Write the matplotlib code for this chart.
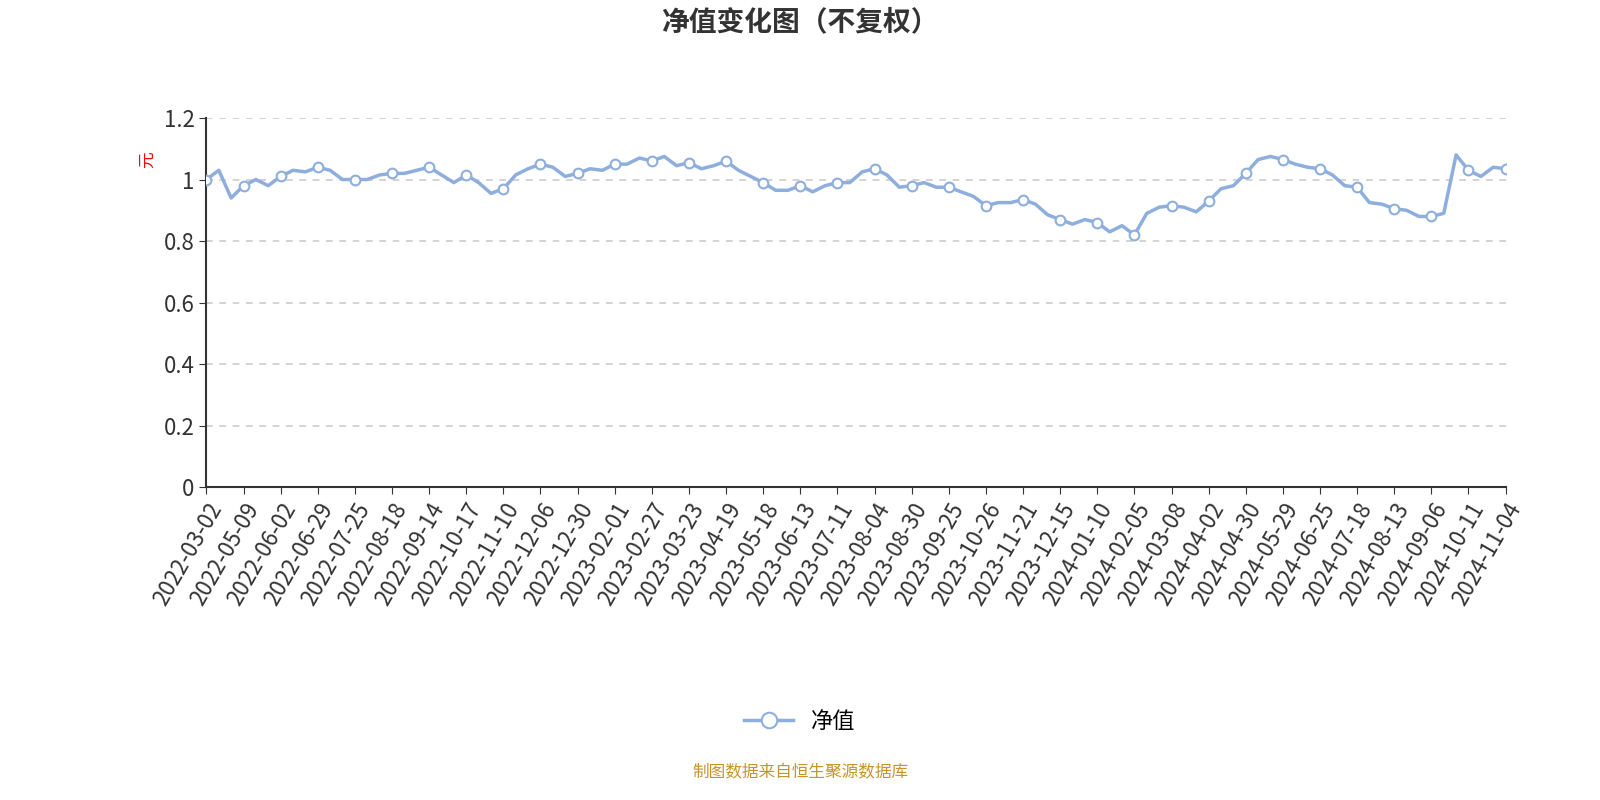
import matplotlib
matplotlib.use("Agg")
import matplotlib.pyplot as plt
from matplotlib.ticker import FuncFormatter

plt.rcParams["font.family"] = ["Noto Sans CJK SC", "DejaVu Sans"]
plt.rcParams["axes.unicode_minus"] = False

tick_labels = [
    "2022-03-02", "2022-05-09", "2022-06-02", "2022-06-29", "2022-07-25", "2022-08-18",
    "2022-09-14", "2022-10-17", "2022-11-10", "2022-12-06", "2022-12-30", "2023-02-01",
    "2023-02-27", "2023-03-23", "2023-04-19", "2023-05-18", "2023-06-13", "2023-07-11",
    "2023-08-04", "2023-08-30", "2023-09-25", "2023-10-26", "2023-11-21", "2023-12-15",
    "2024-01-10", "2024-02-05", "2024-03-08", "2024-04-02", "2024-04-30", "2024-05-29",
    "2024-06-25", "2024-07-18", "2024-08-13", "2024-09-06", "2024-10-11", "2024-11-04",
]

nav = [
    1.00, 1.03, 0.94, 0.98, 1.00, 0.98, 1.01, 1.03, 1.025, 1.04,
    1.03, 1.00, 1.00, 1.00, 1.015, 1.02, 1.02, 1.03, 1.04, 1.015,
    0.99, 1.015, 0.99, 0.955, 0.97, 1.015, 1.035, 1.05, 1.04, 1.01,
    1.02, 1.035, 1.03, 1.05, 1.05, 1.07, 1.06, 1.075, 1.045, 1.055,
    1.035, 1.045, 1.06, 1.03, 1.01, 0.99, 0.965, 0.965, 0.98, 0.96,
    0.98, 0.99, 0.99, 1.025, 1.035, 1.015, 0.975, 0.98, 0.99, 0.975,
    0.975, 0.96, 0.945, 0.915, 0.925, 0.925, 0.935, 0.92, 0.885, 0.87,
    0.855, 0.87, 0.86, 0.83, 0.85, 0.82, 0.89, 0.91, 0.915, 0.91,
    0.895, 0.93, 0.97, 0.98, 1.02, 1.065, 1.075, 1.065, 1.05, 1.04,
    1.035, 1.015, 0.98, 0.975, 0.925, 0.92, 0.905, 0.90, 0.88, 0.88,
    0.89, 1.08, 1.03, 1.01, 1.04, 1.035,
]

x = list(range(len(nav)))
tick_pos = list(range(0, len(nav), 3))

color = "#8eaedd"
fig = plt.figure(figsize=(16, 8), dpi=100)
ax = fig.add_axes([0.129, 0.391, 0.812, 0.4615])
ax.plot(x, nav, color=color, linewidth=2.5, marker="o", markevery=tick_pos,
        markersize=7, markerfacecolor="white", markeredgecolor=color, markeredgewidth=1.5,
        label="净值", zorder=3)

ax.set_xlim(0, len(nav) - 1)
ax.set_ylim(0, 1.2)
ax.set_yticks([0, 0.2, 0.4, 0.6, 0.8, 1.0, 1.2])
ax.yaxis.set_major_formatter(FuncFormatter(lambda v, p: f"{v:g}"))
ax.set_xticks(tick_pos)
ax.set_xticklabels(tick_labels, rotation=60, ha="right", rotation_mode="anchor")
ax.tick_params(axis="both", labelsize=16, colors="#333333", length=5)
ax.grid(axis="y", linestyle=(0, (4, 4)), color="#cccccc", linewidth=1.2)
for side in ["top", "right"]:
    ax.spines[side].set_visible(False)
for side in ["left", "bottom"]:
    ax.spines[side].set_color("#333333")
    ax.spines[side].set_linewidth(1.5)

fig.text(0.092, 0.80, "元", color="red", fontsize=12, rotation=90, ha="center", va="center")
fig.text(0.5, 0.972, "净值变化图（不复权）", fontsize=20, fontweight="bold", color="#333333",
         ha="center", va="center")
fig.legend(loc="center", bbox_to_anchor=(0.5, 0.098), frameon=False, fontsize=16,
           handlelength=2.2, markerscale=1.6)
fig.text(0.5, 0.034, "制图数据来自恒生聚源数据库", fontsize=12, color="#c8942a",
         ha="center", va="center")

fig.savefig("out.png", dpi=100)
